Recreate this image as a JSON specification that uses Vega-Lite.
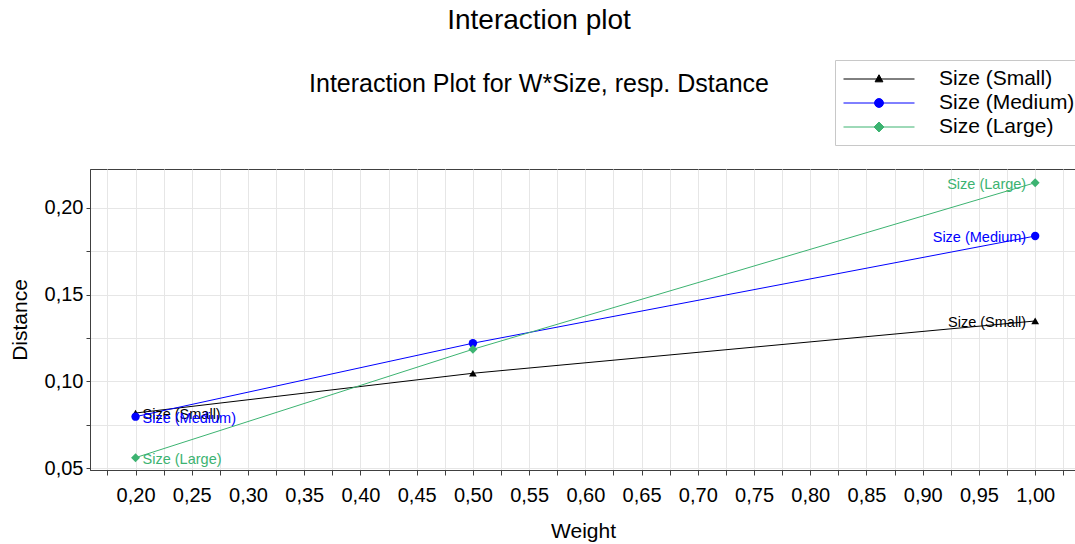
{
  "$schema": "https://vega.github.io/schema/vega-lite/v6.json",
  "autosize": {"type": "none"},
  "padding": {"left": 90, "top": 169, "right": 0, "bottom": 74},
  "width": 986,
  "height": 301,
  "background": "white",
  "title": {
    "text": "Interaction plot",
    "subtitle": "Interaction Plot for W*Size, resp. Dstance",
    "anchor": "middle",
    "frame": "group",
    "dx": -44,
    "fontSize": 28,
    "subtitleFontSize": 25,
    "font": "Liberation Sans",
    "subtitleFont": "Liberation Sans",
    "fontWeight": "normal",
    "subtitleFontWeight": "normal",
    "color": "black",
    "subtitleColor": "black",
    "subtitlePadding": 37,
    "offset": -37
  },
  "data": {
    "values": [
      {"Weight": 0.2, "Distance": 0.0818, "Size": "Size (Small)"},
      {"Weight": 0.5, "Distance": 0.1047, "Size": "Size (Small)"},
      {"Weight": 1.0, "Distance": 0.1348, "Size": "Size (Small)"},
      {"Weight": 0.2, "Distance": 0.0797, "Size": "Size (Medium)"},
      {"Weight": 0.5, "Distance": 0.1220, "Size": "Size (Medium)"},
      {"Weight": 1.0, "Distance": 0.1837, "Size": "Size (Medium)"},
      {"Weight": 0.2, "Distance": 0.0561, "Size": "Size (Large)"},
      {"Weight": 0.5, "Distance": 0.1185, "Size": "Size (Large)"},
      {"Weight": 1.0, "Distance": 0.2144, "Size": "Size (Large)"}
    ]
  },
  "encoding": {
    "x": {
      "field": "Weight", "type": "quantitative",
      "scale": {"domain": [0.1595, 1.0363], "nice": false, "zero": false},
      "axis": {
        "title": "Weight",
        "values": [0.175, 0.2, 0.225, 0.25, 0.275, 0.3, 0.325, 0.35, 0.375, 0.4, 0.425, 0.45, 0.475, 0.5, 0.525, 0.55, 0.575, 0.6, 0.625, 0.65, 0.675, 0.7, 0.725, 0.75, 0.775, 0.8, 0.825, 0.85, 0.875, 0.9, 0.925, 0.95, 0.975, 1.0, 1.025],
        "labelExpr": "round(datum.value*1000) % 50 == 0 ? replace(format(datum.value, '.2f'), '.', ',') : ''",
        "tickSize": 5,
        "labelPadding": 10,
        "titlePadding": 15
      }
    },
    "y": {
      "field": "Distance", "type": "quantitative",
      "scale": {"domain": [0.049, 0.2223], "nice": false, "zero": false},
      "axis": {
        "title": "Distance",
        "values": [0.05, 0.075, 0.1, 0.125, 0.15, 0.175, 0.2],
        "labelExpr": "round(datum.value*1000) % 50 == 0 ? replace(format(datum.value, '.2f'), '.', ',') : ''",
        "tickSize": 4,
        "labelPadding": 3,
        "titlePadding": 14
      }
    },
    "color": {
      "field": "Size", "type": "nominal",
      "scale": {"domain": ["Size (Small)", "Size (Medium)", "Size (Large)"], "range": ["#000000", "#0000ff", "#3cb371"]},
      "legend": {
        "title": null,
        "orient": "none",
        "legendX": 745,
        "legendY": -109,
        "symbolSize": 5041,
        "labelOffset": 24,
        "padding": 8,
        "rowPadding": 3,
        "strokeColor": "#c8c8c8",
        "fillColor": "white",
        "labelFontSize": 21,
        "labelFont": "Liberation Sans",
        "labelColor": "black",
        "labelLimit": 300,
        "encode": {
          "symbols": {
            "update": {
              "shape": {"signal": "datum.value === 'Size (Small)' ? 'M-1,0L1,0M0,-0.12L0.11,0.08L-0.11,0.08Z' : datum.value === 'Size (Medium)' ? 'M-1,0L1,0M-0.125,0A0.125,0.125,0,1,0,0.125,0A0.125,0.125,0,1,0,-0.125,0Z' : 'M-1,0L1,0M0,-0.14L0.14,0L0,0.14L-0.14,0Z'"},
              "y": {"value": 11},
              "fill": {"scale": "color", "field": "value"},
              "stroke": {"scale": "color", "field": "value"},
              "strokeWidth": {"value": 1},
              "opacity": {"value": 1},
              "fillOpacity": {"value": 1},
              "strokeOpacity": {"value": 1}
            }
          },
          "labels": {
            "update": {
              "y": {"value": 11}
            }
          }
        }
      }
    }
  },
  "layer": [
    {
      "mark": {"type": "line", "strokeWidth": 1},
      "encoding": {"detail": {"field": "Size"}}
    },
    {
      "transform": [{"filter": "datum.Size == 'Size (Small)'"}],
      "mark": {"type": "point", "shape": "triangle-up", "filled": true, "opacity": 1, "size": 60}
    },
    {
      "transform": [{"filter": "datum.Size == 'Size (Medium)'"}],
      "mark": {"type": "point", "shape": "circle", "filled": true, "opacity": 1, "size": 70}
    },
    {
      "transform": [{"filter": "datum.Size == 'Size (Large)'"}],
      "mark": {"type": "point", "shape": "diamond", "filled": true, "opacity": 1, "size": 80}
    },
    {
      "transform": [{"filter": "datum.Weight == 0.2"}],
      "mark": {"type": "text", "align": "left", "baseline": "middle", "dx": 7, "dy": 2, "fontSize": 14.5, "font": "Liberation Sans"},
      "encoding": {"text": {"field": "Size"}}
    },
    {
      "transform": [{"filter": "datum.Weight == 1"}],
      "mark": {"type": "text", "align": "right", "baseline": "middle", "dx": -9, "dy": 2, "fontSize": 14.5, "font": "Liberation Sans"},
      "encoding": {"text": {"field": "Size"}}
    }
  ],
  "config": {
    "view": {"stroke": "#404040", "strokeWidth": 1},
    "axis": {
      "grid": true,
      "gridColor": "#e6e6e6",
      "gridWidth": 1,
      "domainColor": "#404040",
      "tickColor": "#404040",
      "labelFontSize": 20,
      "titleFontSize": 21,
      "labelFont": "Liberation Sans",
      "titleFont": "Liberation Sans",
      "labelColor": "black",
      "titleColor": "black",
      "titleFontWeight": "normal",
      "labelOverlap": false,
      "labelFlush": false
    }
  }
}
